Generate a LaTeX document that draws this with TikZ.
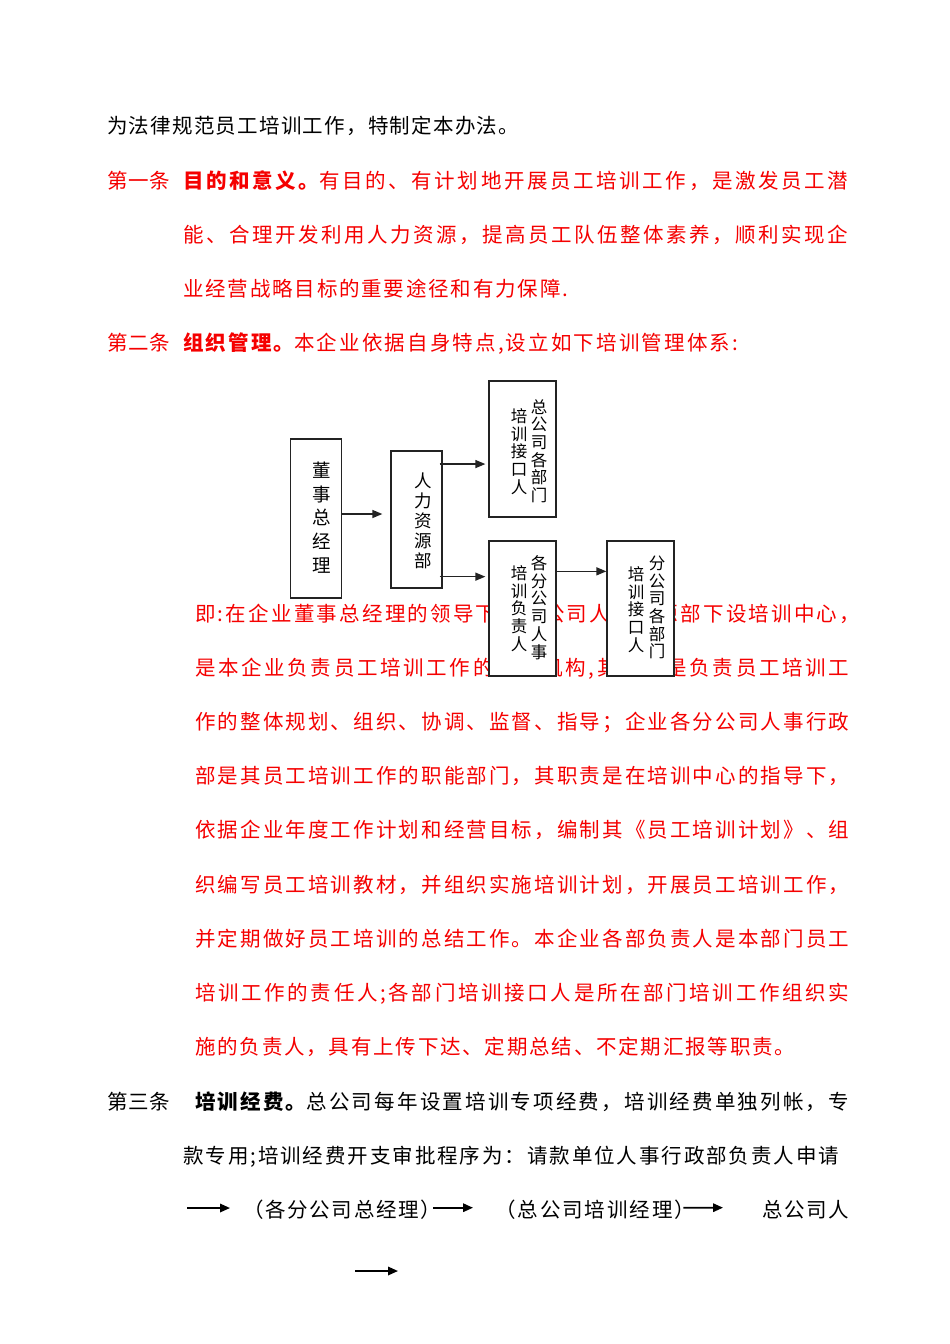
\documentclass[tikz,border=0pt]{standalone}
\usepackage{fontspec}
\setmainfont{Noto Sans CJK SC}
\usetikzlibrary{arrows.meta}
\definecolor{docred}{RGB}{245,0,0}
\definecolor{boxline}{RGB}{35,35,35}
% character classes for even spreading of CJK lines
\newcount\cjkcc
\cjkcc="4E00
\loop \XeTeXcharclass\cjkcc=1 \advance\cjkcc by 1 \ifnum\cjkcc<"A000 \repeat
\cjkcc="3000
\loop \XeTeXcharclass\cjkcc=1 \advance\cjkcc by 1 \ifnum\cjkcc<"3040 \repeat
\cjkcc="FF00
\loop \XeTeXcharclass\cjkcc=1 \advance\cjkcc by 1 \ifnum\cjkcc<"FF60 \repeat
\XeTeXcharclass`\:=1 \XeTeXcharclass`\,=1 \XeTeXcharclass`\.=1 \XeTeXcharclass`\;=1
\XeTeXinterchartoks 1 1 = {\hfill}
\newcommand\spreadtext[2]{\makebox[#1][l]{\XeTeXinterchartokenstate=1\relax #2}}
\tikzset{
  body/.style={inner sep=0pt, anchor=base west, font=\fontsize{20.5}{22}\selectfont},
  redtxt/.style={body, text=docred},
  blktxt/.style={body, text=black},
  orgbox/.style={draw=boxline, line width=1.3pt, fill=white, inner sep=0pt},
  vcol/.style={inner sep=0pt, align=center, text=black, font=\fontsize{16.5}{17.7}\selectfont},
  orgarrow/.style={draw=boxline, line width=1.4pt, -{Triangle[length=10pt,width=8pt]}},
  flowarrow/.style={line width=1.7pt, -{Triangle[length=10pt,width=8.5pt]}},
}
\begin{document}
\begin{tikzpicture}[x=1pt,y=-1pt]
\fill[white] (0,0) rectangle (950,1344);
\useasboundingbox (0,0) rectangle (950,1344);

% ---- opening text ----
\node[blktxt] (l1) at (107,133.5) {\spreadtext{412pt}{为法律规范员工培训工作，特制定本办法。}};
\node[redtxt] (l2a) at (107,188.5) {\spreadtext{63pt}{第一条}};
\node[redtxt] (l2b) at (183,188.5) {\spreadtext{665pt}{{\bfseries 目的和意义。}有目的、有计划地开展员工培训工作，是激发员工潜}};
\node[redtxt] (l3) at (183,242.5) {\spreadtext{665pt}{能、合理开发利用人力资源，提高员工队伍整体素养，顺利实现企}};
\node[redtxt] (l4) at (183,296.5) {\spreadtext{385pt}{业经营战略目标的重要途径和有力保障.}};
\node[redtxt] (l5a) at (107,350.5) {\spreadtext{63pt}{第二条}};
\node[redtxt] (l5b) at (183,350.5) {\spreadtext{555pt}{{\bfseries 组织管理。}本企业依据自身特点,设立如下培训管理体系:}};

% ---- red paragraph ----
\node[redtxt] (p1) at (195,621.5) {\spreadtext{665pt}{即:在企业董事总经理的领导下，总公司人力资源部下设培训中心，}};
\node[redtxt] (p2) at (195,675.5) {\spreadtext{654pt}{是本企业负责员工培训工作的职能机构,其职责是负责员工培训工}};
\node[redtxt] (p3) at (195,729.5) {\spreadtext{654pt}{作的整体规划、组织、协调、监督、指导；企业各分公司人事行政}};
\node[redtxt] (p4) at (195,783.5) {\spreadtext{654pt}{部是其员工培训工作的职能部门，其职责是在培训中心的指导下，}};
\node[redtxt] (p5) at (195,837.5) {\spreadtext{654pt}{依据企业年度工作计划和经营目标，编制其《员工培训计划》、组}};
\node[redtxt] (p6) at (195,892.5) {\spreadtext{654pt}{织编写员工培训教材，并组织实施培训计划，开展员工培训工作，}};
\node[redtxt] (p7) at (195,946.5) {\spreadtext{654pt}{并定期做好员工培训的总结工作。本企业各部负责人是本部门员工}};
\node[redtxt] (p8) at (195,1000.5) {\spreadtext{654pt}{培训工作的责任人;各部门培训接口人是所在部门培训工作组织实}};
\node[redtxt] (p9) at (195,1054.5) {\spreadtext{600pt}{施的负责人，具有上传下达、定期总结、不定期汇报等职责。}};

% ---- article three ----
\node[blktxt] (t1a) at (107,1109.5) {\spreadtext{63pt}{第三条}};
\node[blktxt] (t1b) at (195,1109.5) {\spreadtext{654pt}{{\bfseries 培训经费。}总公司每年设置培训专项经费，培训经费单独列帐，专}};
\node[blktxt] (t2) at (183,1163.5) {\spreadtext{656pt}{款专用;培训经费开支审批程序为：请款单位人事行政部负责人申请}};
\node[blktxt] (f1) at (243,1217.5) {\spreadtext{198pt}{（各分公司总经理）}};
\node[blktxt] (f2) at (495,1217.5) {\spreadtext{200pt}{（总公司培训经理）}};
\node[blktxt] (f3) at (762,1217.5) {\spreadtext{87pt}{总公司人}};

\coordinate (fa1s) at (187,1208);
\coordinate (fa1e) at (230,1208);
\draw[flowarrow] (fa1s) -- (fa1e);
\draw[flowarrow] ([xshift=-8pt,yshift=2pt]f1.east) -- ([xshift=-22pt,yshift=2pt]f2.west);
\draw[flowarrow] ([xshift=-12pt,yshift=2pt]f2.east) -- ([xshift=-39pt,yshift=2pt]f3.west);
\coordinate (fa4s) at (355,1271);
\coordinate (fa4e) at (398,1271);
\draw[flowarrow] (fa4s) -- (fa4e);

% ---- organisation chart ----
\node[orgbox, minimum width=50.5pt, minimum height=159pt] (b1) at (316,518.5) {};
\node[orgbox, minimum width=51pt, minimum height=137pt] (b2) at (416.5,519.5) {};
\node[orgbox, minimum width=67pt, minimum height=136pt] (b3) at (522.5,449) {};
\node[orgbox, minimum width=67pt, minimum height=135pt] (b4) at (522.5,608.5) {};
\node[orgbox, minimum width=67pt, minimum height=135pt] (b5) at (640.5,608.5) {};

\node[vcol, font=\fontsize{18.5}{23.7}\selectfont] (c1) at (322,517.5) {董\\事\\总\\经\\理};
\node[vcol, font=\fontsize{17.5}{20}\selectfont] (c2) at (423,521) {人\\力\\资\\源\\部};
\node[vcol] (c3r) at (539,451) {总\\公\\司\\各\\部\\门};
\node[vcol] (c3l) at (519,451.5) {培\\训\\接\\口\\人};
\node[vcol] (c4r) at (539,607.5) {各\\分\\公\\司\\人\\事};
\node[vcol] (c4l) at (519,608.5) {培\\训\\负\\责\\人};
\node[vcol] (c5r) at (657,607.5) {分\\公\\司\\各\\部\\门};
\node[vcol] (c5l) at (636,609.5) {培\\训\\接\\口\\人};

\draw[orgarrow, shorten >=8pt] ([yshift=4.5pt]b1.east) -- ([yshift=4.5pt]b1.east -| b2.west);
\draw[orgarrow] ([xshift=-3pt,yshift=-13.7pt]b2.north east) -- ([xshift=-3pt,yshift=-13.7pt]b2.north east -| b3.west);
\draw[orgarrow] ([xshift=-3pt,yshift=12pt]b2.south east) -- ([xshift=-3pt,yshift=12pt]b2.south east -| b4.west);
\draw[orgarrow] ([yshift=-31pt]b4.north east) -- ([yshift=-31pt]b4.north east -| b5.west);
\end{tikzpicture}
\end{document}
